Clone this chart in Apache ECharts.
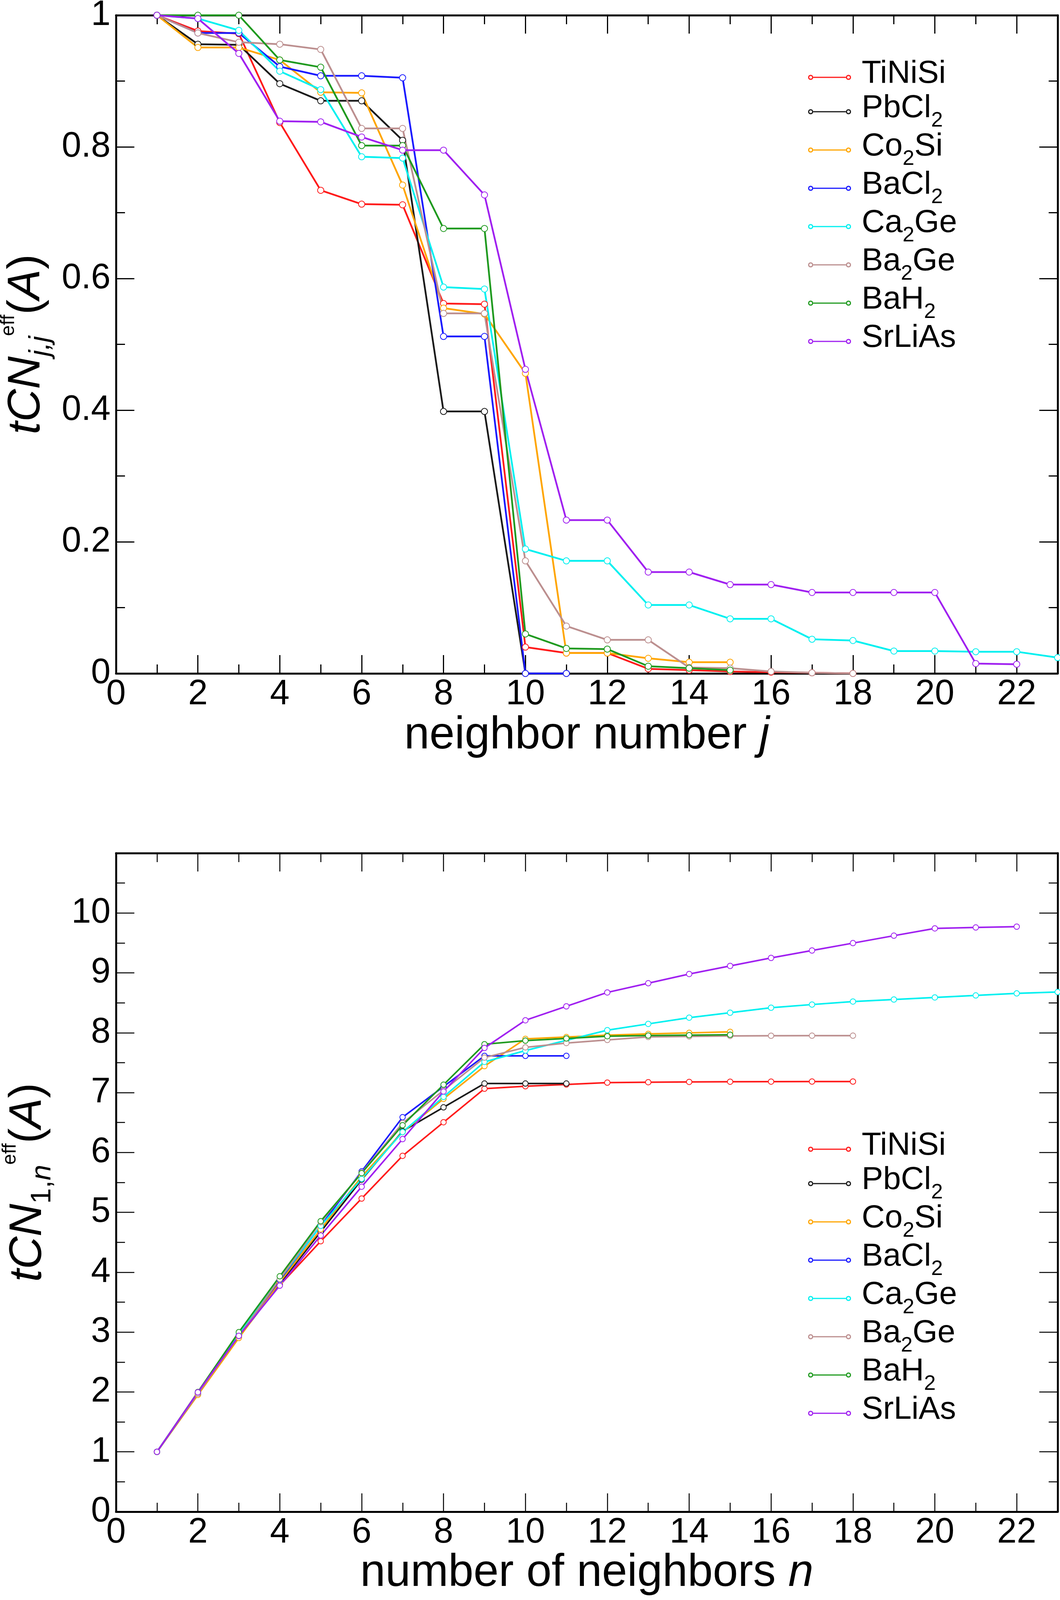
<!DOCTYPE html>
<html>
<head>
<meta charset="utf-8">
<script src="https://cdn.jsdelivr.net/npm/echarts@6/dist/echarts.min.js"></script>
<style>html,body{margin:0;padding:0;background:#fff}#c{width:2714px;height:4100px}</style>
</head>
<body>
<div id="c"></div>
<script>
// ---------- data ----------
const neighborNumbers = [1,2,3,4,5,6,7,8,9,10,11,12,13,14,15,16,17,18,19,20,21,22,23];
const seriesNames = ['TiNiSi','PbCl2','Co2Si','BaCl2','Ca2Ge','Ba2Ge','BaH2','SrLiAs'];
const seriesColors = ['#ff1a1a','#1a1a1a','#ffa500','#1a1aff','#00f0f0','#bc8f8f','#1f9a1f','#a020f0'];
const legendRich = {
  TiNiSi: '{m|TiNiSi}', PbCl2: '{m|PbCl}{s|2}', Co2Si: '{m|Co}{s|2}{m|Si}', BaCl2: '{m|BaCl}{s|2}',
  Ca2Ge: '{m|Ca}{s|2}{m|Ge}', Ba2Ge: '{m|Ba}{s|2}{m|Ge}', BaH2: '{m|BaH}{s|2}', SrLiAs: '{m|SrLiAs}'
};
const yTopTicks = [0, 0.2, 0.4, 0.6, 0.8, 1];
const yBottomTicks = [0,1,2,3,4,5,6,7,8,9,10];

// tCN_{j,j}^eff (top panel)
const jj_TiNiSi = [1.000,0.976,0.972,0.837,0.734,0.713,0.712,0.562,0.561,0.040,0.031,0.031,0.007,0.005,0.003,0.002,0.001,0.000];
const jj_PbCl2  = [1.000,0.956,0.955,0.896,0.870,0.870,0.810,0.398,0.398,0.000,0.000];
const jj_Co2Si  = [1.000,0.951,0.951,0.932,0.883,0.882,0.742,0.555,0.546,0.456,0.031,0.031,0.023,0.017,0.017];
const jj_BaCl2  = [1.000,0.973,0.973,0.922,0.908,0.908,0.905,0.512,0.512,0.000,0.000];
const jj_Ca2Ge  = [1.000,0.995,0.977,0.915,0.887,0.785,0.783,0.587,0.584,0.189,0.171,0.171,0.104,0.104,0.083,0.083,0.052,0.050,0.034,0.034,0.033,0.033,0.024];
const jj_Ba2Ge  = [1.000,0.973,0.959,0.956,0.948,0.828,0.828,0.547,0.547,0.171,0.072,0.051,0.051,0.009,0.008,0.003,0.001,0.000];
const jj_BaH2   = [1.000,1.000,1.000,0.932,0.921,0.802,0.802,0.676,0.676,0.060,0.038,0.037,0.011,0.008,0.005];
const jj_SrLiAs = [1.000,0.995,0.942,0.839,0.838,0.815,0.795,0.795,0.727,0.462,0.233,0.233,0.154,0.154,0.135,0.135,0.123,0.123,0.123,0.123,0.015,0.014];

// tCN_{1,n}^eff (bottom panel)
const n_TiNiSi = [1.000,1.976,2.948,3.784,4.518,5.231,5.944,6.505,7.066,7.106,7.136,7.167,7.174,7.179,7.182,7.184,7.185,7.185];
const n_PbCl2  = [1.000,1.956,2.911,3.807,4.677,5.546,6.356,6.754,7.152,7.152,7.152];
const n_Co2Si  = [1.000,1.951,2.901,3.833,4.716,5.598,6.341,6.896,7.442,7.898,7.928,7.959,7.981,7.998,8.015];
const n_BaCl2  = [1.000,1.973,2.945,3.867,4.776,5.684,6.589,7.101,7.614,7.614,7.614];
const n_Ca2Ge  = [1.000,1.995,2.972,3.887,4.774,5.559,6.342,6.929,7.513,7.702,7.873,8.043,8.148,8.252,8.335,8.418,8.471,8.521,8.555,8.590,8.623,8.657,8.680];
const n_Ba2Ge  = [1.000,1.973,2.932,3.887,4.835,5.663,6.492,7.038,7.585,7.756,7.828,7.879,7.930,7.939,7.947,7.950,7.951,7.951];
const n_BaH2   = [1.000,2.000,3.000,3.932,4.853,5.655,6.456,7.132,7.808,7.868,7.905,7.942,7.953,7.960,7.966];
const n_SrLiAs = [1.000,1.995,2.937,3.776,4.614,5.429,6.224,7.019,7.746,8.208,8.441,8.673,8.827,8.981,9.116,9.250,9.374,9.497,9.621,9.743,9.758,9.772];

const topValues = [jj_TiNiSi, jj_PbCl2, jj_Co2Si, jj_BaCl2, jj_Ca2Ge, jj_Ba2Ge, jj_BaH2, jj_SrLiAs];
const bottomValues = [n_TiNiSi, n_PbCl2, n_Co2Si, n_BaCl2, n_Ca2Ge, n_Ba2Ge, n_BaH2, n_SrLiAs];

// ---------- styling ----------
const FONT = "'Liberation Sans', Arial, Helvetica, sans-serif";
const K = '#000';

const yNameStyle = {
  color: K, fontFamily: FONT,
  rich: {
    i:   {fontSize: 116, fontStyle: 'italic', lineHeight: 144, fontFamily: FONT, color: K},
    u:   {fontSize: 116, lineHeight: 144, fontFamily: FONT, color: K},
    sb:  {fontSize: 72, lineHeight: 64, verticalAlign: 'bottom', fontFamily: FONT, color: K},
    sbi: {fontSize: 72, fontStyle: 'italic', lineHeight: 64, verticalAlign: 'bottom', fontFamily: FONT, color: K},
    sp:  {fontSize: 50, lineHeight: 48, verticalAlign: 'top', fontFamily: FONT, color: K}
  }
};
const xNameStyle = {
  color: K, fontFamily: FONT,
  rich: {
    t:  {fontSize: 116, lineHeight: 130, fontFamily: FONT, color: K},
    ti: {fontSize: 116, lineHeight: 130, fontStyle: 'italic', fontFamily: FONT, color: K}
  }
};

function xAxesFor(g, name, nameGap, tickW) {
  const common = {type: 'value', gridIndex: g, min: 0, max: 23, splitLine: {show: false}};
  return [
    Object.assign({}, common, {
      position: 'bottom', interval: 2,
      axisLine: {show: true, onZero: false, lineStyle: {color: K, width: 5}},
      axisTick: {show: true, inside: true, length: 47, lineStyle: {color: K, width: tickW}},
      axisLabel: {show: true, fontSize: 90, fontFamily: FONT, color: K, margin: 9,
                  formatter: v => (v === 23 ? '' : String(v))},
      name: name, nameLocation: 'middle', nameGap: nameGap, nameTextStyle: xNameStyle
    }),
    Object.assign({}, common, {
      position: 'bottom', interval: 1,
      axisLine: {show: false, onZero: false},
      axisTick: {show: true, inside: true, length: 23, lineStyle: {color: K, width: tickW}},
      axisLabel: {show: false}
    }),
    Object.assign({}, common, {
      position: 'top', interval: 2,
      axisLine: {show: true, onZero: false, lineStyle: {color: K, width: 5}},
      axisTick: {show: true, inside: true, length: 47, lineStyle: {color: K, width: tickW}},
      axisLabel: {show: false}
    }),
    Object.assign({}, common, {
      position: 'top', interval: 1,
      axisLine: {show: false, onZero: false},
      axisTick: {show: true, inside: true, length: 23, lineStyle: {color: K, width: tickW}},
      axisLabel: {show: false}
    })
  ];
}

function yAxesFor(g, max, interval, minorInterval, name, nameGap, tickW, hideVal) {
  const common = {type: 'value', gridIndex: g, min: 0, max: max, splitLine: {show: false}};
  return [
    Object.assign({}, common, {
      position: 'left', interval: interval,
      axisLine: {show: true, onZero: false, lineStyle: {color: K, width: 5}},
      axisTick: {show: true, inside: true, length: 47, lineStyle: {color: K, width: tickW}},
      axisLabel: {show: true, fontSize: 90, fontFamily: FONT, color: K, margin: 14,
                  formatter: v => (hideVal !== null && Math.abs(v - hideVal) < 1e-9 ? '' : String(+v.toFixed(2)))},
      name: name, nameLocation: 'middle', nameRotate: 90, nameGap: nameGap, nameTextStyle: yNameStyle
    }),
    Object.assign({}, common, {
      position: 'left', interval: minorInterval,
      axisLine: {show: false, onZero: false},
      axisTick: {show: true, inside: true, length: 23, lineStyle: {color: K, width: tickW}},
      axisLabel: {show: false}
    }),
    Object.assign({}, common, {
      position: 'right', interval: interval,
      axisLine: {show: true, onZero: false, lineStyle: {color: K, width: 5}},
      axisTick: {show: true, inside: true, length: 47, lineStyle: {color: K, width: tickW}},
      axisLabel: {show: false}
    }),
    Object.assign({}, common, {
      position: 'right', interval: minorInterval,
      axisLine: {show: false, onZero: false},
      axisTick: {show: true, inside: true, length: 23, lineStyle: {color: K, width: tickW}},
      axisLabel: {show: false}
    })
  ];
}

const xAxes = [].concat(
  xAxesFor(0, '{t|neighbor number }{ti|j}', 95, 3),
  xAxesFor(1, '{t|number of neighbors }{ti|n}', 86, 2.5)
);
const yAxes = [].concat(
  yAxesFor(0, yTopTicks[yTopTicks.length - 1], 0.2, 0.1, '{i|tCN}{sbi|j,j}{sp|eff}{u|(}{i|A}{u|)}', 156, 3, null),
  yAxesFor(1, 11, 1, 0.5, '{i|tCN}{sb|1,}{sbi|n}{sp|eff}{u|(}{i|A}{u|)}', 152, 2.5, 11)
);

const series = [];
seriesNames.forEach((nm, k) => {
  series.push({
    type: 'line', name: nm, xAxisIndex: 0, yAxisIndex: 0,
    data: topValues[k].map((v, i) => [neighborNumbers[i], v]),
    symbol: 'emptyCircle', symbolSize: 16, showSymbol: true,
    lineStyle: {color: seriesColors[k], width: 4.5},
    itemStyle: {color: seriesColors[k], borderColor: seriesColors[k], borderWidth: 3},
    animation: false, clip: false
  });
});
seriesNames.forEach((nm, k) => {
  series.push({
    type: 'line', name: nm, xAxisIndex: 4, yAxisIndex: 4,
    data: bottomValues[k].map((v, i) => [neighborNumbers[i], v]),
    symbol: 'emptyCircle', symbolSize: 14, showSymbol: true,
    lineStyle: {color: seriesColors[k], width: 4},
    itemStyle: {color: seriesColors[k], borderColor: seriesColors[k], borderWidth: 2.5},
    animation: false, clip: false
  });
});

const ICON = 'path://M0.5 7A6.5 6.5 0 1 0 13.5 7A6.5 6.5 0 1 0 0.5 7ZM3.5 7A3.5 3.5 0 1 1 10.5 7A3.5 3.5 0 1 1 3.5 7Z' +
             'M13.5 5.5L96.5 5.5L96.5 8.5L13.5 8.5Z' +
             'M96.5 7A6.5 6.5 0 1 0 109.5 7A6.5 6.5 0 1 0 96.5 7ZM99.5 7A3.5 3.5 0 1 1 106.5 7A3.5 3.5 0 1 1 99.5 7Z';

function legendFor(top) {
  return {
    data: seriesNames.map((nm, k) => ({name: nm, itemStyle: {color: seriesColors[k], borderWidth: 0}})),
    orient: 'vertical', left: 2069, top: top, padding: 0,
    itemWidth: 110, itemHeight: 14, itemGap: -2, icon: ICON, selectedMode: false,
    itemStyle: {borderWidth: 0},
    formatter: nm => '{g| }' + legendRich[nm],
    textStyle: {
      color: K, fontFamily: FONT, fontSize: 82,
      rich: {
        g: {fontSize: 80, lineHeight: 100, fontFamily: FONT},
        m: {fontSize: 82, lineHeight: 80, verticalAlign: 'top', fontFamily: FONT, color: K},
        s: {fontSize: 54, lineHeight: 54, verticalAlign: 'bottom', fontFamily: FONT, color: K}
      }
    }
  };
}

const option = {
  backgroundColor: '#fff',
  animation: false,
  grid: [
    {left: 297, top: 39, width: 2411, height: 1685, containLabel: false, outerBoundsMode: 'none'},
    {left: 297, top: 2184, width: 2411, height: 1686, containLabel: false, outerBoundsMode: 'none'}
  ],
  xAxis: xAxes,
  yAxis: yAxes,
  legend: [legendFor(148), legendFor(2892)],
  series: series
};

const chart = echarts.init(document.getElementById('c'), null, {renderer: 'canvas'});
chart.setOption(option);
</script>
</body>
</html>
